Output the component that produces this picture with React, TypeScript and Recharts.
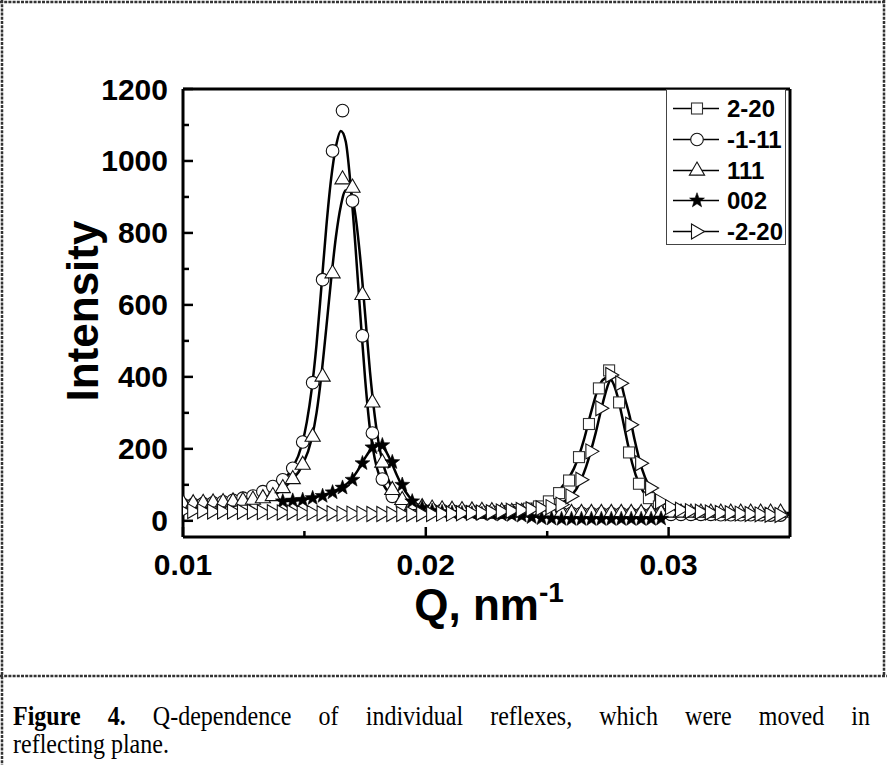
import React from 'react'
import { ComposedChart, Line, XAxis, YAxis, ReferenceLine } from 'recharts'

// measurement grid shared by most reflexes (Q, nm^-1)
const q = [
  0.01001, 0.01042, 0.01083, 0.01124, 0.01165, 0.01206, 0.01247, 0.01288, 0.01329, 0.0137,
  0.01411, 0.01452, 0.01493, 0.01534, 0.01575, 0.01616, 0.01657, 0.01698, 0.01739, 0.0178,
  0.01821, 0.01862, 0.01903, 0.01944, 0.01985, 0.02026, 0.02067, 0.02108, 0.02149, 0.0219,
  0.02231, 0.02272, 0.02313, 0.02354, 0.02395, 0.02436, 0.02477, 0.02518, 0.02559, 0.026,
  0.02641, 0.02682, 0.02723, 0.02764, 0.02805, 0.02846, 0.02887, 0.02928, 0.02969, 0.0301,
  0.03051, 0.03092, 0.03133, 0.03174, 0.03215, 0.03256, 0.03297, 0.03338, 0.03379, 0.0342,
  0.03461,
]

// -1-11 (circles)
const vM111 = [
  45, 46, 48, 50, 53, 57, 63, 69, 81, 95,
  114, 146, 219, 384, 670, 1028, 1140, 889, 514, 244,
  116, 68, 44, 36, 32, 30, 29, 28, 27, 26,
  25, 25, 24, 24, 23, 23, 22, 22, 21, 21,
  21, 20, 20, 20, 20, 19, 19, 19, 19, 18,
  18, 18, 18, 18, 17, 17, 17, 17, 17, 16,
  16,
]

// 111 (up triangles)
const v111 = [
  48, 49, 50, 51, 52, 54, 56, 59, 63, 69,
  91, 116, 156, 234, 401, 688, 949, 926, 628, 329,
  162, 86, 58, 44, 38, 34, 32, 31, 30, 29,
  28, 27, 26, 25, 25, 24, 23, 22, 22, 22,
  22, 22, 22, 22, 22, 22, 22, 22, 22, 23,
  23, 23, 23, 23, 23, 23, 23, 23, 23, 23,
  23,
]

// 002 (stars)
const v002 = [
  null, null, null, null, null, null, null, null, null, null,
  54, 56, 58, 63, 69, 79, 92, 114, 160, 204,
  210, 163, 100, 54, 36, 28, 24, 22, 21, 20,
  19, 18, 17, 16, 14, 10, 7, 6, 5, 5,
  5, 5, 5, 5, 5, 5, 5, 5, 6, null,
  null, null, null, null, null, null, null, null, null, null,
  null,
]

// -2-20 (right triangles)
const vM220 = [
  27, 27, 27, 26, 26, 26, 25, 25, 24, 24,
  23, 23, 22, 22, 21, 21, 20, 20, 20, 19,
  19, 19, 19, 19, 19, 19, 20, 20, 21, 22,
  23, 24, 26, 28, 30, 32, 35, 38, 45, 68,
  114, 193, 313, 405, 382, 267, 160, 91, 54, 38,
  31, 27, 25, 23, 22, 21, 20, 19, 18, 17,
  16,
]

// 2-20 (squares), own grid
const q220 = [
  0.02221, 0.02262, 0.02303, 0.02344, 0.02384, 0.02425, 0.02466, 0.02507, 0.02549, 0.0259,
  0.02631, 0.02672, 0.02713, 0.02755, 0.02796, 0.02837, 0.02878, 0.02919, 0.0296, 0.03001,
  0.03042, 0.03083, 0.03124,
]
const v220 = [22, 23, 25, 27, 30, 34, 40, 54, 77, 112, 177, 269, 368, 418, 329, 190, 103, 63, 40, 30, 25, 22, 20]

// fitted curves
const fitQM111 = [
  0.01, 0.011, 0.0118, 0.0125, 0.0129, 0.0133, 0.0137, 0.0141, 0.0145, 0.0149, 0.0151, 0.0153,
  0.0155, 0.0157, 0.0159, 0.0161, 0.0163, 0.0165, 0.0167, 0.0169, 0.0171, 0.0173, 0.0175, 0.0177,
  0.0179, 0.0181, 0.0184, 0.0186, 0.019, 0.0195, 0.02, 0.021, 0.023, 0.026, 0.03, 0.035,
]
const fitVM111 = [
  44, 47, 54, 62, 68, 79, 93, 112, 145, 212, 275, 365,
  490, 650, 815, 950, 1040, 1083, 1055, 935, 765, 575, 395, 255,
  172, 122, 85, 67, 45, 34, 30, 27, 24, 21, 19, 17,
]
const fitQ111 = [
  0.01, 0.011, 0.012, 0.0129, 0.0133, 0.0137, 0.0141, 0.0145, 0.0149, 0.0153, 0.0155, 0.0157,
  0.0159, 0.0161, 0.0163, 0.0165, 0.0167, 0.0169, 0.0171, 0.0173, 0.0175, 0.0177, 0.0179, 0.0181,
  0.0183, 0.0186, 0.019, 0.0195, 0.02, 0.021, 0.023, 0.026, 0.03, 0.035,
]
const fitV111 = [
  47, 50, 54, 58, 63, 69, 88, 114, 152, 228, 300, 405,
  535, 670, 790, 875, 918, 915, 850, 730, 575, 415, 290, 200,
  145, 92, 60, 42, 35, 30, 26, 22, 23, 22,
]
const fitQ002 = [
  0.0141, 0.0145, 0.0149, 0.0153, 0.0157, 0.0161, 0.0165, 0.0169, 0.0172, 0.0175, 0.0178,
  0.018, 0.0182, 0.0184, 0.0186, 0.0188, 0.019, 0.0193, 0.0196, 0.0199, 0.0203, 0.021,
]
const fitV002 = [54, 56, 58, 63, 70, 79, 92, 112, 140, 175, 203, 212, 208, 188, 160, 128, 100, 68, 48, 36, 28, 22]
const fitQ220 = [
  0.0235, 0.024, 0.0245, 0.0249, 0.0253, 0.0257, 0.0261, 0.0265, 0.0268, 0.0271, 0.0273,
  0.0275, 0.0277, 0.0279, 0.0281, 0.0283, 0.0285, 0.0288, 0.0292, 0.0296, 0.03, 0.0305,
]
const fitV220 = [24, 28, 36, 50, 70, 102, 145, 222, 300, 368, 392, 398, 385, 345, 285, 220, 160, 100, 60, 38, 29, 22]
const fitQM220 = [
  0.024, 0.0248, 0.0254, 0.0258, 0.0262, 0.0266, 0.027, 0.0273, 0.0276, 0.0278,
  0.028, 0.0282, 0.0284, 0.0286, 0.0289, 0.0292, 0.0296, 0.03, 0.0305, 0.0312,
]
const fitVM220 = [25, 33, 45, 58, 88, 150, 245, 330, 392, 400, 390, 340, 290, 225, 145, 95, 60, 42, 32, 25]

const yTicks = [0, 100, 200, 300, 400, 500, 600, 700, 800, 900, 1000, 1100, 1200]
const xTicks = [0.01, 0.015, 0.02, 0.025, 0.03]
const legendNames = ['2-20', '-1-11', '111', '002', '-2-20']

type Shape = 'square' | 'circle' | 'up' | 'star' | 'right'
const shapes: Shape[] = ['square', 'circle', 'up', 'star', 'right']

const pairs = (xs: number[], ys: (number | null)[]) =>
  xs.map((x, i) => ({ q: x, v: ys[i] })).filter((d) => d.v !== null && d.v !== undefined)

const starPath = (cx: number, cy: number, ro: number, ri: number) => {
  let d = ''
  for (let i = 0; i < 10; i++) {
    const r = i % 2 === 0 ? ro : ri
    const a = -Math.PI / 2 + (i * Math.PI) / 5
    d += `${i === 0 ? 'M' : 'L'}${cx + r * Math.cos(a)},${cy + r * Math.sin(a)}`
  }
  return d + 'Z'
}

function Marker({ shape, cx, cy }: { shape: Shape; cx: number; cy: number }) {
  const st = { fill: '#fff', stroke: '#111', strokeWidth: 1.1 }
  switch (shape) {
    case 'square':
      return <rect x={cx - 5.5} y={cy - 5.5} width={11} height={11} {...st} stroke="#333" />
    case 'circle':
      return <circle cx={cx} cy={cy} r={6.3} {...st} />
    case 'up':
      return <polygon points={`${cx},${cy - 8.5} ${cx + 7.6},${cy + 4.6} ${cx - 7.6},${cy + 4.6}`} {...st} />
    case 'star':
      return <path d={starPath(cx, cy, 7.8, 3.2)} fill="#000" stroke="#000" strokeWidth={0.6} />
    default:
      return <polygon points={`${cx - 5.5},${cy - 7.5} ${cx - 5.5},${cy + 7.5} ${cx + 7.5},${cy}`} {...st} />
  }
}

const dotFor = (shape: Shape) => (p: any) => {
  const key = `${shape}-${p.index}`
  if (typeof p.cx !== 'number' || typeof p.cy !== 'number' || isNaN(p.cy)) return <g key={key} />
  return (
    <g key={key}>
      <Marker shape={shape} cx={p.cx} cy={p.cy} />
    </g>
  )
}

const font = '"Liberation Sans", Arial, sans-serif'

const YTick = (props: any) => {
  const { x, y, payload } = props
  const major = payload.value % 200 === 0
  return (
    <g>
      <line x1={x} x2={x + (major ? 10 : 6)} y1={y} y2={y} stroke="#000" strokeWidth={2.5} />
      {major && (
        <text x={x - 15} y={y + 10.5} textAnchor="end" fontSize={30} fontWeight="bold" fontFamily={font} fill="#000">
          {payload.value}
        </text>
      )}
    </g>
  )
}

const XTick = (props: any) => {
  const { x, y, payload } = props
  const v = payload.value
  const major = Math.abs(v * 100 - Math.round(v * 100)) < 1e-6
  return (
    <g>
      <line x1={x} x2={x} y1={y} y2={y - (major ? 10 : 6)} stroke="#000" strokeWidth={2.5} />
      {major && (
        <text x={x} y={y + 38} textAnchor="middle" fontSize={30} fontWeight="bold" fontFamily={font} fill="#000">
          {v.toFixed(2)}
        </text>
      )}
    </g>
  )
}

export default function App() {
  const fits = [
    pairs(fitQ220, fitV220),
    pairs(fitQM111, fitVM111),
    pairs(fitQ111, fitV111),
    pairs(fitQ002, fitV002),
    pairs(fitQM220, fitVM220),
  ]
  const markers = [
    pairs(q220, v220),
    pairs(q, vM111),
    pairs(q, v111),
    pairs(q, v002),
    pairs(q, vM220),
  ]

  return (
    <div style={{ position: 'absolute', left: 0, top: 0, width: 887, height: 765, background: '#fff' }}>
      <div style={{ position: 'absolute', left: 0, top: 0 }}>
        <ComposedChart width={887} height={680} margin={{ top: 89, right: 97, bottom: 83, left: 83 }}>
          <XAxis
            type="number"
            dataKey="q"
            domain={[0.01, 0.035]}
            ticks={xTicks}
            interval={0}
            allowDataOverflow
            height={60}
            tickSize={0}
            tickMargin={0}
            tickLine={false}
            tick={<XTick />}
            axisLine={{ stroke: '#000', strokeWidth: 3 }}
          />
          <YAxis
            type="number"
            domain={[-45, 1200]}
            ticks={yTicks}
            interval={0}
            allowDataOverflow
            width={100}
            tickSize={0}
            tickMargin={0}
            tickLine={false}
            tick={<YTick />}
            axisLine={{ stroke: '#000', strokeWidth: 3 }}
          />
          <ReferenceLine y={1200} stroke="#000" strokeWidth={3} />
          <ReferenceLine x={0.035} stroke="#000" strokeWidth={3} />
          {fits.map((d, i) => (
            <Line
              key={`fit-${i}`}
              data={d}
              dataKey="v"
              type="monotone"
              stroke="#000"
              strokeWidth={2.5}
              dot={false}
              activeDot={false}
              isAnimationActive={false}
              legendType="none"
            />
          ))}
          {markers.map((d, i) => (
            <Line
              key={`mk-${i}`}
              name={legendNames[i]}
              data={d}
              dataKey="v"
              stroke="none"
              dot={dotFor(shapes[i])}
              activeDot={false}
              isAnimationActive={false}
            />
          ))}
        </ComposedChart>
      </div>

      <svg width={887} height={765} style={{ position: 'absolute', left: 0, top: 0, pointerEvents: 'none' }}>
        <g stroke="#333" strokeWidth={2.5} strokeDasharray="3 1.2" fill="none">
          <line x1={2} y1={0} x2={2} y2={765} />
          <line x1={0} y1={2} x2={885} y2={2} />
          <line x1={884} y1={0} x2={884} y2={676} />
          <line x1={0} y1={676} x2={887} y2={676} />
        </g>
        <text
          x={98}
          y={311}
          transform="rotate(-90 98 311)"
          textAnchor="middle"
          fontSize={44}
          fontWeight="bold"
          fontFamily={font}
          fill="#000"
        >
          Intensity
        </text>
        <text x={489} y={620} textAnchor="middle" fontSize={44} fontWeight="bold" fontFamily={font} fill="#000">
          Q, nm
          <tspan fontSize={28} dy={-18}>
            -1
          </tspan>
        </text>
      </svg>

      <div
        style={{
          position: 'absolute',
          left: 666,
          top: 89,
          width: 120,
          height: 156,
          border: '1px solid #444',
          background: '#fff',
          boxSizing: 'border-box',
        }}
      >
        {legendNames.map((name, i) => (
          <div key={name} style={{ position: 'absolute', left: 0, top: 3 + i * 30.8, height: 31, width: 120 }}>
            <svg width={56} height={31} style={{ position: 'absolute', left: 0, top: 0 }}>
              <line x1={6} x2={52} y1={15.5} y2={15.5} stroke="#000" strokeWidth={1.6} />
              <Marker shape={shapes[i]} cx={30} cy={15.5} />
            </svg>
            <span
              style={{
                position: 'absolute',
                left: 60,
                top: 0,
                lineHeight: '31px',
                fontSize: 24,
                fontWeight: 'bold',
                fontFamily: font,
                color: '#000',
                whiteSpace: 'nowrap',
              }}
            >
              {name}
            </span>
          </div>
        ))}
      </div>

      <div
        style={{
          position: 'absolute',
          left: 13,
          top: 703,
          width: 857,
          fontFamily: '"Liberation Serif", "Times New Roman", serif',
          fontSize: 24,
          lineHeight: '25px',
          color: '#000',
          transform: 'scaleY(1.12)',
          transformOrigin: '0 0',
        }}
      >
        <div style={{ textAlign: 'justify', textAlignLast: 'justify' }}>
          <b>Figure 4.</b> Q-dependence of individual reflexes, which were moved in
        </div>
        <div>reflecting plane.</div>
      </div>
    </div>
  )
}
